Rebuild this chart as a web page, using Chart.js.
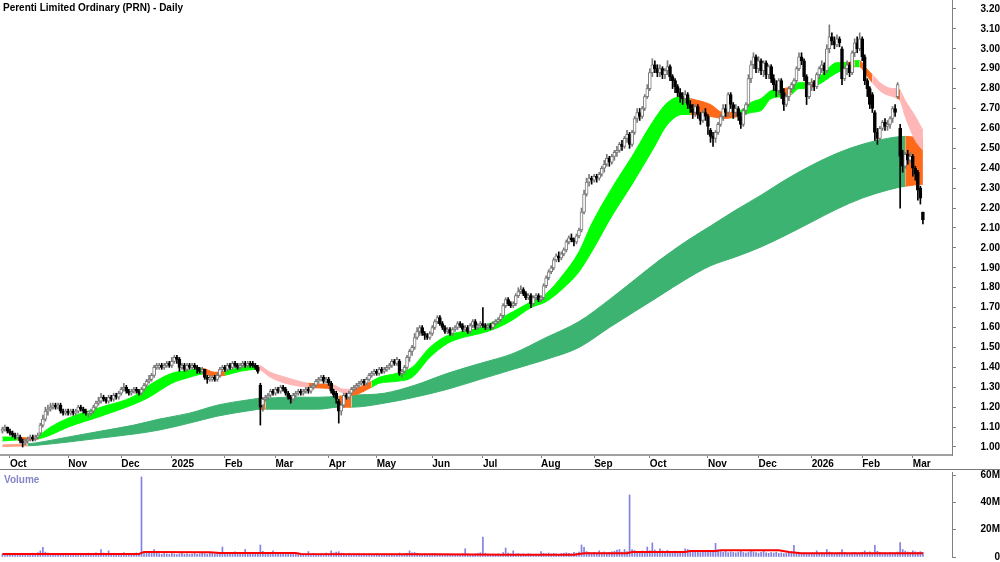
<!DOCTYPE html>
<html>
<head>
<meta charset="utf-8">
<title>Perenti Limited Ordinary (PRN) - Daily</title>
<script src="https://cdn.jsdelivr.net/npm/chart.js@4.4.1/dist/chart.umd.min.js"></script>
<style>
  body { margin: 0; background: #fff; width: 1000px; height: 562px; overflow: hidden; position: relative; }
  #priceWrap { position: absolute; left: 0; top: 0; width: 1000px; height: 469px; }
  #volWrap { position: absolute; left: 0; top: 469px; width: 1000px; height: 92px; border-top: 1px solid #7a7a7a; }
</style>
</head>
<body>
<div id="priceWrap"><canvas id="priceChart"></canvas></div>
<div id="volWrap"><canvas id="volumeChart"></canvas></div>
<script>
// x positions are trading-day numbers (0 = first bar on the chart)
const monthIdx = [3, 26, 47, 67, 88, 108, 129, 148, 170, 190, 213, 234, 256, 279, 299, 320, 340, 360];
const monthLabels = ['Oct', 'Nov', 'Dec', '2025', 'Feb', 'Mar', 'Apr', 'May', 'Jun', 'Jul', 'Aug', 'Sep', 'Oct', 'Nov', 'Dec', '2026', 'Feb', 'Mar'];
const priceTicks = [1.00, 1.10, 1.20, 1.30, 1.40, 1.50, 1.60, 1.70, 1.80, 1.90, 2.00, 2.10, 2.20, 2.30, 2.40, 2.50, 2.60, 2.70, 2.80, 2.90, 3.00, 3.10, 3.20];
const volumeTicks = [0, 20, 40, 60];

// daily prices, in cents
const opens = [
  108,109,110,108,107,106,105,105,103,102, 103,104,105,104,105,107,111,114,118,119,
  120,121,120,121,118,117,118,117,118,117, 118,120,119,118,117,117,118,120,122,123,
  125,124,123,125,124,126,125,127,129,130, 128,127,128,129,128,127,129,131,133,134,
  136,140,140,141,140,141,142,141,143,145, 144,140,141,139,141,140,141,140,139,138,
  139,135,134,134,135,134,136,139,140,139, 141,140,142,141,140,141,142,141,142,142,
  141,140,131,121,124,125,126,128,127,129, 128,130,129,127,125,124,126,127,128,127,
  128,129,128,130,131,133,134,135,133,134, 132,128,127,123,118,121,126,125,127,129,
  130,131,132,133,132,134,136,137,138,137, 139,138,139,140,141,143,142,143,137,138,
  140,145,148,150,155,158,160,157,156,155, 157,160,163,165,162,160,158,159,157,159,
  160,162,161,159,160,158,161,163,160,161, 162,161,160,161,160,162,163,164,166,171,
  174,172,171,172,176,178,179,177,175,176, 172,175,176,174,175,181,185,188,190,194,
  196,195,197,199,203,205,204,203,206,209, 218,227,233,235,234,236,235,237,240,242,
  245,243,246,248,249,252,251,255,257,252, 258,265,268,266,270,276,280,288,292,290,
  288,290,287,289,291,286,284,281,278,276, 275,277,272,270,268,271,267,264,268,266,
  259,256,255,258,262,266,270,268,277,272, 268,270,266,262,269,272,285,292,296,290,
  294,289,293,287,291,285,282,279,284,278, 272,276,280,282,284,290,296,294,286,276,
  282,283,281,287,290,292,289,300,306,304, 302,305,300,285,290,292,288,298,303,300,
  305,296,284,280,277,268,258,255,260,263, 261,262,265,270,276,260,247,241,247,244,
  246,240,238,230,218
];
const highs = [
  110,111,110,109,108,107,107,106,104,104, 105,106,106,106,107,112,116,120,121,122,
  122,122,122,122,119,119,119,119,119,119, 121,121,120,119,118,119,121,123,125,127,
  126,125,126,126,127,127,128,130,132,131, 129,129,130,130,129,130,132,134,136,137,
  141,142,142,142,142,143,143,145,146,146, 145,142,142,142,142,142,142,141,140,140,
  139,136,136,136,136,137,140,141,141,142, 142,143,143,142,142,143,143,143,143,143,
  142,141,132,125,126,127,129,129,130,130, 131,131,130,128,126,127,128,129,129,129,
  130,130,131,132,134,135,136,136,135,135, 133,129,128,124,122,127,127,128,130,131,
  132,133,134,134,135,137,138,139,139,140, 140,140,141,142,144,144,145,144,139,141,
  146,149,151,157,160,161,161,158,157,158, 161,164,166,166,163,161,160,160,160,161,
  163,163,162,161,161,162,164,164,162,163, 170,162,162,162,163,164,165,167,172,175,
  175,173,173,177,180,181,180,178,177,177, 176,177,177,176,182,186,189,191,195,197,
  198,198,200,204,206,207,205,207,210,220, 229,235,237,236,237,237,238,241,244,247,
  246,247,249,251,253,254,256,259,258,259, 266,270,270,271,277,282,290,295,294,292,
  292,291,290,294,292,287,285,282,280,278, 279,278,274,272,272,272,268,269,270,267,
  260,258,259,263,267,272,272,278,278,273, 272,271,268,270,273,287,294,298,297,296,
  295,294,294,292,292,287,284,285,285,280, 277,281,283,285,291,298,298,295,287,283,
  285,284,288,291,294,293,302,312,308,306, 307,306,301,291,294,293,299,305,306,308,
  306,297,285,281,278,269,260,261,264,265, 264,266,271,272,283,262,249,248,249,248,
  247,241,239,231,218
];
const lows = [
  107,108,107,106,105,104,104,102,100,101, 102,103,103,103,104,106,110,113,116,118,
  119,119,119,117,116,116,116,116,116,116, 117,118,117,116,115,116,117,119,121,122,
  123,122,122,123,123,124,124,126,128,127, 126,126,127,127,126,126,128,130,132,133,
  135,139,139,139,139,140,140,140,142,142, 138,139,138,138,139,139,139,137,137,137,
  134,132,133,133,133,133,135,138,138,138, 139,139,140,139,139,140,140,140,140,140,
  139,137,111,118,123,124,125,126,126,127, 127,128,126,124,122,123,125,126,126,126,
  127,127,127,129,130,132,133,132,132,131, 127,125,122,112,116,120,124,124,126,128,
  129,130,131,131,131,133,135,136,136,136, 137,137,138,139,140,141,141,136,135,137,
  139,143,146,149,154,156,156,154,154,154, 156,159,162,161,159,157,157,156,156,158,
  159,160,158,158,157,157,160,159,159,160, 160,159,159,159,159,161,162,163,165,170,
  171,170,170,171,175,177,176,174,174,170, 171,174,173,173,174,180,184,187,189,193,
  193,194,196,198,202,203,201,202,205,208, 217,226,231,232,233,233,234,236,238,241,
  241,242,244,246,248,249,250,253,250,251, 257,263,264,265,269,275,279,286,288,286,
  286,285,285,287,284,280,278,276,273,272, 273,270,268,265,266,265,262,263,264,257,
  253,251,253,257,261,264,266,266,270,265, 266,264,260,261,267,271,283,290,288,288,
  287,286,285,285,283,279,276,277,275,269, 271,274,278,280,283,289,292,284,272,275,
  279,279,280,285,288,287,288,298,302,300, 301,301,282,284,287,286,287,296,298,299,
  294,282,276,270,268,254,252,254,259,259, 259,260,263,266,275,220,238,240,242,243,
  236,234,224,222,212
];
const closes = [
  109,110,108,107,106,105,106,103,102,103, 104,105,104,105,106,111,114,118,119,120,
  121,120,121,118,117,118,117,118,117,118, 120,119,118,117,117,118,120,122,123,125,
  124,123,125,124,126,125,127,129,130,128, 127,128,129,128,127,129,131,133,134,136,
  140,141,141,140,141,142,141,143,145,144, 140,141,139,141,140,141,140,139,138,139,
  135,134,134,135,134,136,139,140,139,141, 140,142,141,140,141,142,141,142,141,141,
  140,138,120,124,125,126,128,127,129,128, 130,129,127,125,124,126,127,128,127,128,
  129,128,130,131,133,134,135,133,134,132, 128,126,124,118,121,126,125,127,129,130,
  131,132,133,132,134,136,137,138,137,139, 138,139,140,141,143,142,144,137,138,140,
  145,148,150,155,158,160,157,156,155,157, 160,163,165,162,160,158,159,157,159,160,
  162,161,159,160,158,161,163,160,161,162, 161,160,161,160,162,163,164,166,171,174,
  172,171,172,176,178,179,177,175,176,172, 175,176,174,175,181,185,188,190,194,196,
  195,197,199,203,205,204,203,206,209,218, 227,233,235,234,236,235,237,240,242,245,
  243,246,248,249,252,251,255,257,252,258, 265,268,266,270,276,280,288,292,290,288,
  290,287,289,291,286,284,281,278,276,275, 277,272,270,268,271,267,264,268,266,261,
  256,255,258,262,266,270,268,277,272,268, 270,266,262,269,272,285,292,296,290,294,
  289,293,287,291,285,282,279,284,278,272, 276,280,282,284,290,296,294,286,276,282,
  283,281,287,290,292,289,300,306,304,302, 305,303,285,290,292,288,298,303,300,305,
  296,284,280,272,270,258,255,260,263,261, 262,265,270,268,282,246,241,247,244,246,
  240,237,229,225,214
];

// daily volume, millions of shares
const volumes = [
  2.1,1.8,2.4,2.0,1.7,2.3,1.9,2.6,2.2,1.8, 2.5,2.0,2.8,2.3,3.1,4.5,7.0,3.6,2.9,2.4,
  2.2,2.7,2.0,2.4,1.9,2.2,2.6,2.1,1.8,2.3, 2.0,2.5,1.9,2.2,2.8,2.1,2.4,3.0,2.6,5.5,
  2.9,2.4,4.5,2.7,2.2,2.5,2.0,2.6,3.2,2.4, 2.1,2.7,2.3,3.0,2.5,58.6,3.3,2.8,3.9,2.6,
  5.5,3.1,2.4,2.0,2.6,2.2,1.9,2.5,2.1,1.8, 2.3,2.7,2.0,2.4,1.9,2.2,2.6,2.0,2.3,2.8,
  2.5,2.1,3.4,2.6,2.2,2.9,2.4,7.3,2.7,2.3, 2.0,2.6,3.8,2.4,2.9,2.2,5.5,2.6,2.1,2.4,
  2.7,3.2,8.8,4.1,3.0,2.6,2.8,4.5,2.3,2.0, 2.5,2.2,2.9,2.4,2.7,2.1,2.3,2.8,2.0,2.6,
  2.4,4.0,2.2,2.7,2.3,2.0,2.5,2.2,2.8,2.4, 4.5,3.0,3.6,3.9,2.8,2.5,2.2,2.6,2.0,2.3,
  2.1,2.6,1.9,2.3,2.0,2.4,1.8,2.2,2.5,2.0, 1.9,2.3,1.7,2.1,2.4,1.8,2.2,2.9,2.0,2.4,
  2.7,4.5,3.0,3.3,2.6,2.2,1.9,2.3,2.0,1.8, 2.2,2.5,1.9,2.1,1.7,2.0,2.3,1.8,2.1,1.9,
  2.2,1.8,2.5,6.0,2.3,2.0,1.7,2.2,2.6,3.1, 14.6,2.8,2.2,1.9,2.1,1.8,2.4,2.0,3.2,6.6,
  2.9,2.4,4.5,2.2,2.6,2.0,2.3,1.9,2.5,2.1, 1.8,2.2,2.0,4.0,2.7,2.4,2.9,2.2,2.6,2.3,
  2.0,2.5,2.8,3.1,2.6,2.3,3.4,2.9,3.6,8.8, 7.0,3.9,3.4,3.0,3.5,2.9,4.5,3.2,3.7,3.0,
  3.4,3.8,4.2,5.0,5.5,3.6,5.5,4.0,45.4,5.5, 4.8,4.0,3.6,4.4,3.8,7.3,4.6,10.3,5.0,4.2,
  6.0,4.5,3.9,4.8,4.1,3.6,4.4,3.8,4.0,3.5, 6.0,5.5,4.2,3.6,4.6,3.9,3.3,4.1,3.5,3.8,
  4.3,4.9,10.0,5.2,4.0,3.6,4.4,3.2,3.8,3.4, 3.0,3.6,4.1,3.3,2.9,3.5,5.0,3.8,3.2,2.8,
  3.4,5.0,3.1,2.7,3.3,2.9,3.6,2.6,3.0,2.5, 2.8,3.2,3.9,8.5,3.4,2.7,2.4,3.0,2.6,2.2,
  2.9,2.4,4.5,2.7,3.1,2.5,5.5,3.6,3.0,2.6, 2.8,3.2,5.5,3.4,2.7,2.4,3.0,3.3,2.6,2.9,
  3.5,4.5,3.2,3.8,3.0,8.5,4.2,3.4,2.9,3.1, 2.7,3.3,3.0,2.8,3.6,10.5,5.5,4.3,3.6,3.2,
  4.5,3.8,3.4,3.9,3.5
];

// volume average line (millions), read at a few days
const volMaIdx = [0, 54, 56, 82, 86, 116, 118, 170, 200, 226, 230, 247, 249, 270, 272, 282, 284, 307, 311, 316, 364];
const volMa = [2.2, 2.2, 3.7, 3.4, 3.0, 3.0, 2.2, 2.1, 1.7, 1.6, 2.7, 2.8, 3.7, 3.7, 4.4, 4.4, 4.9, 4.9, 3.7, 2.7, 2.7];

// short-term ribbon edges ($)
const shortIdx = [0, 6, 10, 14, 19, 26, 39, 52, 58, 67, 74, 79, 84, 88, 94, 101, 106, 112, 121, 131, 135, 138, 146, 149, 156, 162, 169, 176, 182, 189, 196, 202, 209, 215, 222, 228, 233, 241, 249, 257, 263, 269, 272, 280, 285, 291, 296, 300, 304, 309, 312, 315, 319, 321, 324, 330, 334, 337, 339, 341, 344, 348, 352, 354, 355, 357, 361, 364];
const shortLow = [1.03, 1.035, 1.035, 1.04, 1.06, 1.10, 1.155, 1.215, 1.25, 1.32, 1.35, 1.365, 1.355, 1.36, 1.38, 1.39, 1.35, 1.32, 1.30, 1.29, 1.27, 1.26, 1.30, 1.32, 1.33, 1.35, 1.45, 1.52, 1.55, 1.57, 1.60, 1.64, 1.70, 1.73, 1.80, 1.88, 1.98, 2.16, 2.32, 2.49, 2.62, 2.67, 2.67, 2.66, 2.65, 2.66, 2.68, 2.69, 2.75, 2.76, 2.77, 2.80, 2.80, 2.81, 2.83, 2.88, 2.90, 2.91, 2.91, 2.88, 2.83, 2.78, 2.76, 2.75, 2.74, 2.66, 2.54, 2.49];
const shortHigh = [1.05, 1.05, 1.045, 1.055, 1.10, 1.145, 1.20, 1.255, 1.31, 1.37, 1.385, 1.395, 1.375, 1.38, 1.40, 1.41, 1.375, 1.35, 1.32, 1.31, 1.29, 1.29, 1.33, 1.35, 1.37, 1.40, 1.50, 1.56, 1.58, 1.60, 1.64, 1.68, 1.73, 1.77, 1.87, 1.98, 2.12, 2.30, 2.46, 2.63, 2.73, 2.76, 2.75, 2.72, 2.68, 2.685, 2.73, 2.75, 2.79, 2.80, 2.81, 2.83, 2.83, 2.84, 2.87, 2.93, 2.93, 2.94, 2.94, 2.91, 2.87, 2.82, 2.80, 2.80, 2.79, 2.74, 2.66, 2.59];
const shortOrange = [[6, 14], [79, 88], [121, 131], [138, 146], [272, 291], [309, 312], [319, 321], [334, 337], [339, 344], [354, 355]];
const shortPink = [[101, 121], [131, 138], [344, 354], [355, 364]];

// long-term ribbon edges ($)
const longIdx = [0, 5, 10, 13, 26, 39, 52, 62, 74, 85, 99, 102, 104, 112, 125, 133, 138, 151, 163, 176, 189, 202, 215, 228, 240, 250, 260, 270, 280, 290, 300, 310, 320, 330, 340, 350, 357, 364];
const longLow = [1.003, 1.004, 1.006, 1.008, 1.025, 1.045, 1.065, 1.085, 1.12, 1.155, 1.185, 1.19, 1.19, 1.19, 1.19, 1.20, 1.20, 1.22, 1.25, 1.29, 1.34, 1.39, 1.44, 1.50, 1.60, 1.68, 1.76, 1.84, 1.91, 1.955, 2.005, 2.065, 2.13, 2.195, 2.25, 2.29, 2.31, 2.32];
const longHigh = [1.010, 1.012, 1.016, 1.02, 1.05, 1.08, 1.11, 1.14, 1.17, 1.21, 1.24, 1.245, 1.245, 1.25, 1.25, 1.255, 1.26, 1.27, 1.31, 1.37, 1.42, 1.47, 1.55, 1.63, 1.74, 1.84, 1.94, 2.03, 2.11, 2.19, 2.265, 2.345, 2.415, 2.475, 2.52, 2.55, 2.56, 2.55];
const longOrange = [[102, 104], [133, 138], [357, 364]];
const longPink = [[0, 10]];

const GREEN = '#00ff00';
const SEA = '#3cb371';
const ORANGE = '#ff6a1a';
const PINK = '#ffb6b6';
const SALMON = '#ff9f80';
const X_MIN = -0.95, X_MAX = 375.5;

Chart.defaults.font.family = '"Liberation Sans", Arial, sans-serif';
Chart.defaults.font.size = 10;
Chart.defaults.color = '#000';

const up = i => closes[i] >= opens[i];

function bandColor(idx, orange, pink, base, pinkCol) {
  return ctx => {
    const a = idx[ctx.p0DataIndex], b = idx[ctx.p1DataIndex];
    if (orange.some(r => a >= r[0] && b <= r[1])) return ORANGE;
    if (pink.some(r => a >= r[0] && b <= r[1])) return pinkCol;
    return base;
  };
}

function band(idx, vals, fill, base, colorFn, order) {
  return {
    type: 'line',
    data: idx.map((v, i) => ({x: v, y: vals[i]})),
    fill: fill,
    borderWidth: 1,
    borderColor: base,
    backgroundColor: base,
    pointRadius: 0,
    cubicInterpolationMode: 'monotone',
    segment: {backgroundColor: colorFn, borderColor: colorFn},
    order: order
  };
}

const panelTitle = {
  id: 'panelTitle',
  afterDraw(chart, args, opts) {
    const c = chart.ctx;
    c.save();
    c.font = 'bold 10px "Liberation Sans", Arial, sans-serif';
    c.fillStyle = opts.color;
    c.textBaseline = 'top';
    c.fillText(opts.text, opts.x, opts.y);
    c.restore();
  }
};

const longColor = bandColor(longIdx, longOrange, longPink, SEA, SALMON);
const shortColor = bandColor(shortIdx, shortOrange, shortPink, GREEN, PINK);

new Chart(document.getElementById('priceChart'), {
  type: 'bar',
  data: {
    datasets: [
      band(longIdx, longHigh, '+1', SEA, longColor, 20),
      band(longIdx, longLow, false, SEA, longColor, 20),
      band(shortIdx, shortHigh, '+1', GREEN, shortColor, 15),
      band(shortIdx, shortLow, false, GREEN, shortColor, 15),
      {
        label: 'range',
        data: closes.map((c, i) => ({x: i, y: [lows[i] / 100, highs[i] / 100]})),
        barThickness: 1,
        grouped: false,
        backgroundColor: ctx => up(ctx.dataIndex) ? '#7a7a7a' : '#000',
        order: 2
      },
      {
        label: 'body',
        data: closes.map((c, i) => ({x: i, y: [opens[i] / 100, c / 100]})),
        barThickness: 3,
        grouped: false,
        minBarLength: 1,
        borderWidth: 1,
        borderSkipped: false,
        backgroundColor: ctx => up(ctx.dataIndex) ? '#fff' : '#000',
        borderColor: ctx => up(ctx.dataIndex) ? '#7a7a7a' : '#000',
        order: 1
      }
    ]
  },
  options: {
    responsive: true,
    maintainAspectRatio: false,
    animation: false,
    events: [],
    layout: {padding: 0},
    plugins: {
      legend: {display: false},
      tooltip: {enabled: false},
      panelTitle: {text: 'Perenti Limited Ordinary (PRN) - Daily', x: 3, y: 3, color: '#000'}
    },
    scales: {
      x: {
        type: 'linear',
        min: X_MIN,
        max: X_MAX,
        offset: false,
        afterBuildTicks: s => { s.ticks = monthIdx.map(v => ({value: v})); },
        afterFit: s => { s.height = 14; s.paddingLeft = 0; s.paddingRight = 0; },
        ticks: {
          autoSkip: false,
          maxRotation: 0,
          align: 'start',
          padding: 0,
          font: {size: 10, weight: 'bold'},
          callback: (v, i) => monthLabels[i]
        },
        grid: {drawOnChartArea: false, offset: false, tickLength: 3, color: '#808080'},
        border: {color: '#a0a0a0', width: 2}
      },
      y: {
        position: 'right',
        min: 0.9598,
        max: 3.245,
        afterBuildTicks: s => { s.ticks = priceTicks.map(v => ({value: v})); },
        afterFit: s => { s.width = 48; s.paddingTop = 0; s.paddingBottom = 0; },
        ticks: {
          crossAlign: 'far',
          padding: 16,
          font: {size: 10, weight: 'bold'},
          callback: v => v.toFixed(2)
        },
        grid: {drawOnChartArea: false, tickLength: 4, color: '#808080'},
        border: {color: '#808080'}
      }
    }
  },
  plugins: [panelTitle]
});

new Chart(document.getElementById('volumeChart'), {
  type: 'bar',
  data: {
    datasets: [
      {
        type: 'line',
        label: 'average',
        data: volMaIdx.map((v, i) => ({x: v, y: volMa[i]})),
        borderColor: '#ff0000',
        borderWidth: 2,
        pointRadius: 0,
        fill: false,
        order: 1
      },
      {
        label: 'Volume',
        data: volumes.map((v, i) => ({x: i, y: v})),
        barThickness: 1,
        grouped: false,
        backgroundColor: '#8282e0',
        order: 2
      }
    ]
  },
  options: {
    responsive: true,
    maintainAspectRatio: false,
    animation: false,
    events: [],
    layout: {padding: {top: 2, bottom: 5}},
    plugins: {
      legend: {display: false},
      tooltip: {enabled: false},
      panelTitle: {text: 'Volume', x: 4, y: 5, color: '#8585c8'}
    },
    scales: {
      x: {type: 'linear', min: X_MIN, max: X_MAX, offset: false, display: false},
      y: {
        position: 'right',
        min: 0,
        max: 62.2,
        afterBuildTicks: s => { s.ticks = volumeTicks.map(v => ({value: v})); },
        afterFit: s => { s.width = 48; s.paddingTop = 0; s.paddingBottom = 0; },
        ticks: {
          crossAlign: 'far',
          padding: 16,
          font: {size: 10, weight: 'bold'},
          callback: v => v === 0 ? '0' : v + 'M'
        },
        grid: {drawOnChartArea: false, tickLength: 4, color: '#808080'},
        border: {color: '#808080'}
      }
    }
  },
  plugins: [panelTitle]
});
</script>
</body>
</html>
